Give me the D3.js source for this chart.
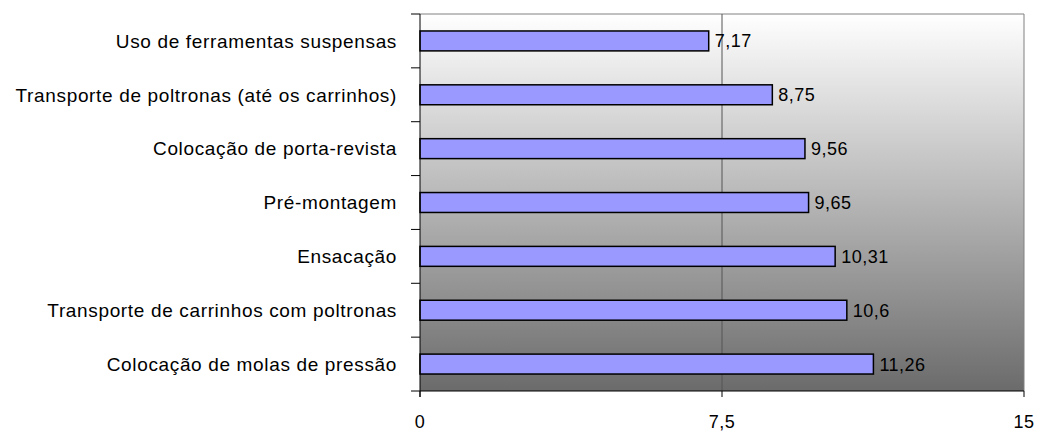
<!DOCTYPE html>
<html>
<head>
<meta charset="utf-8">
<script src="https://cdn.jsdelivr.net/npm/d3@7"></script>
<style>
  html, body { margin: 0; padding: 0; background: #fff; }
  svg { display: block; font-family: "Liberation Sans", Arial, sans-serif; }
</style>
</head>
<body>
<svg id="chart" width="1037" height="433"></svg>
<script>
// Task durations per activity (top to bottom)
const categories = [
  "Uso de ferramentas suspensas",
  "Transporte de poltronas (até os carrinhos)",
  "Colocação de porta-revista",
  "Pré-montagem",
  "Ensacação",
  "Transporte de carrinhos com poltronas",
  "Colocação de molas de pressão"
];
const values = [7.17, 8.75, 9.56, 9.65, 10.31, 10.6, 11.26];
const valueLabels = ["7,17", "8,75", "9,56", "9,65", "10,31", "10,6", "11,26"];
const xTicks = [0, 7.5, 15];
const xTickLabels = ["0", "7,5", "15"];

const svg = d3.select("#chart");
const margin = { left: 420, top: 14, right: 1024, bottom: 391 };

const x = d3.scaleLinear().domain([0, 15]).range([margin.left, margin.right]);
const y = d3.scaleBand().domain(categories).range([margin.top, margin.bottom]).paddingInner(0.63).paddingOuter(0.315);

// Background gradient of the plot area
const defs = svg.append("defs");
const grad = defs.append("linearGradient").attr("id", "bg").attr("x1", 0).attr("y1", 0).attr("x2", 0).attr("y2", 1);
grad.append("stop").attr("offset", "0%").attr("stop-color", "#ffffff");
grad.append("stop").attr("offset", "100%").attr("stop-color", "#6b6b6b");

svg.append("rect")
  .attr("x", margin.left).attr("y", margin.top)
  .attr("width", margin.right - margin.left).attr("height", margin.bottom - margin.top)
  .attr("fill", "url(#bg)");

// Frame: top and right in gray
svg.append("path")
  .attr("d", `M${margin.left},${margin.top}H${margin.right}V${margin.bottom}`)
  .attr("fill", "none").attr("stroke", "#808080").attr("stroke-width", 1);

// Vertical gridline at 7.5
svg.append("line")
  .attr("x1", x(7.5)).attr("x2", x(7.5))
  .attr("y1", margin.top).attr("y2", margin.bottom)
  .attr("stroke", "#555").attr("stroke-width", 1);

// Bars
svg.selectAll("rect.bar").data(values).join("rect")
  .attr("class", "bar")
  .attr("x", x(0))
  .attr("y", (d, i) => y(categories[i]))
  .attr("width", d => x(d) - x(0))
  .attr("height", y.bandwidth())
  .attr("fill", "#9999ff")
  .attr("stroke", "#000").attr("stroke-width", 1.5);

// Value labels
svg.selectAll("text.val").data(values).join("text")
  .attr("class", "val")
  .attr("x", d => x(d) + 6)
  .attr("y", (d, i) => y(categories[i]) + y.bandwidth() / 2)
  .attr("dy", "0.36em")
  .attr("font-size", 18)
  .attr("letter-spacing", 0.5)
  .attr("fill", "#000")
  .text((d, i) => valueLabels[i]);

// Left axis line and category separators
const step = y.step();
svg.append("line")
  .attr("x1", margin.left).attr("x2", margin.left)
  .attr("y1", margin.top).attr("y2", margin.bottom + 6)
  .attr("stroke", "#000").attr("stroke-width", 1);
d3.range(categories.length + 1).forEach(i => {
  const yy = margin.top + i * step;
  svg.append("line")
    .attr("x1", margin.left - 9).attr("x2", margin.left)
    .attr("y1", yy).attr("y2", yy)
    .attr("stroke", "#000").attr("stroke-width", 1);
});

// Category labels
svg.selectAll("text.cat").data(categories).join("text")
  .attr("class", "cat")
  .attr("x", 397)
  .attr("y", d => y(d) + y.bandwidth() / 2)
  .attr("dy", "0.36em")
  .attr("text-anchor", "end")
  .attr("font-size", 19)
  .attr("letter-spacing", 0.65)
  .attr("fill", "#000")
  .text(d => d);

// Bottom axis
svg.append("line")
  .attr("x1", margin.left).attr("x2", margin.right)
  .attr("y1", margin.bottom).attr("y2", margin.bottom)
  .attr("stroke", "#000").attr("stroke-width", 1);
svg.selectAll("line.xt").data(xTicks).join("line")
  .attr("class", "xt")
  .attr("x1", d => x(d)).attr("x2", d => x(d))
  .attr("y1", margin.bottom).attr("y2", margin.bottom + 6)
  .attr("stroke", "#000");
svg.selectAll("text.xl").data(xTicks).join("text")
  .attr("class", "xl")
  .attr("x", d => x(d))
  .attr("y", 422)
  .attr("dy", "0.36em")
  .attr("text-anchor", "middle")
  .attr("font-size", 18)
  .attr("letter-spacing", 0.5)
  .text((d, i) => xTickLabels[i]);
</script>
</body>
</html>
